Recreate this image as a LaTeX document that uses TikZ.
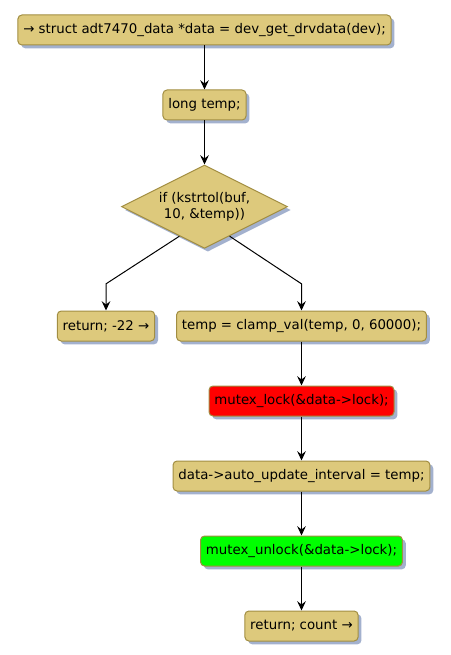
\documentclass[tikz,border=0pt]{standalone}
\usepackage{fontspec}
\setmainfont{DejaVu Sans}
\usetikzlibrary{positioning, shapes.geometric, shadows, arrows.meta, calc}
\definecolor{actfill}{RGB}{221,201,124}
\definecolor{actline}{RGB}{162,142,66}
\definecolor{shadowcol}{RGB}{163,177,206}
\definecolor{lockred}{RGB}{255,0,0}
\definecolor{unlockgreen}{RGB}{0,255,0}

\begin{document}
\begin{tikzpicture}[x=0.75pt, y=-0.75pt, node distance=33pt,
    font=\fontsize{10pt}{12pt}\selectfont, line width=0.75pt,
    >={Stealth[length=7pt, width=6.5pt, inset=2.5pt]},
    act/.style={rectangle, rounded corners=3pt, draw=actline, fill=actfill,
        minimum height=22.5pt, inner xsep=4pt, inner ysep=0pt,
        drop shadow={shadow xshift=2.5pt, shadow yshift=-2.5pt, fill=shadowcol, opacity=1}},
    decision/.style={diamond, draw=actline, fill=actfill, aspect=2,
        minimum width=124.5pt, minimum height=62.5pt, inner sep=0pt, align=center,
        drop shadow={shadow xshift=2.5pt, shadow yshift=-2.5pt, fill=shadowcol, opacity=1}}]
        \useasboundingbox (0,0) rectangle (450,655);

        % 上の列
        \node[act] (Start) at (204.5,30) {→ struct adt7470\_data *data = dev\_get\_drvdata(dev);};
        \node[act, below=of Start] (Temp) {long temp;};
        \node[decision, below=of Temp] (If) {if (kstrtol(buf,\\10, \&temp))};

        % 分岐
        \node[act] (RetErr) at (106,326) {return; -22 →};
        \node[act] (Clamp) at (301.5,326) {temp = clamp\_val(temp, 0, 60000);};

        % 右の列
        \node[act, fill=lockred, below=of Clamp] (Lock) {mutex\_lock(\&data->lock);};
        \node[act, below=of Lock] (Update) {data->auto\_update\_interval = temp;};
        \node[act, fill=unlockgreen, below=of Update] (Unlock) {mutex\_unlock(\&data->lock);};
        \node[act, below=of Unlock] (RetCount) {return; count →};

        % 矢印
        \draw[->] (Start) -- (Temp);
        \draw[->] (Temp) -- (If);
        \draw[->] ($(If.south)!0.3!(If.west)$) -- ([yshift=20pt]RetErr.north) -- (RetErr.north);
        \draw[->] ($(If.south)!0.3!(If.east)$) -- ([yshift=20pt]Clamp.north) -- (Clamp.north);
        \draw[->] (Clamp) -- (Lock);
        \draw[->] (Lock) -- (Update);
        \draw[->] (Update) -- (Unlock);
        \draw[->] (Unlock) -- (RetCount);
    \end{tikzpicture}
\end{document}
